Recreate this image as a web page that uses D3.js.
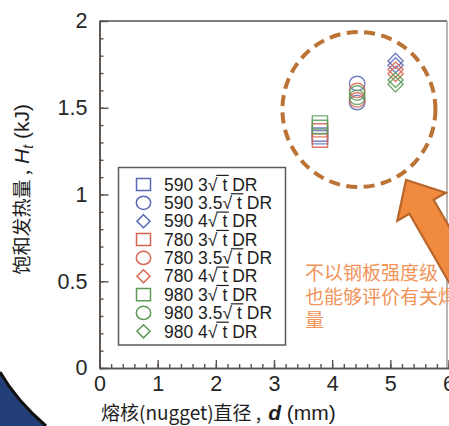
<!DOCTYPE html>
<html>
<head>
<meta charset="utf-8">
<script src="https://cdn.jsdelivr.net/npm/d3@7"></script>
<style>
  html, body { margin: 0; padding: 0; background: #fff; }
  svg { display: block; }
</style>
</head>
<body>
<svg id="chart" width="449" height="426"></svg>
<script>
// ---------- data ----------
const steelGrades = ["590", "780", "980"];
const drFactors = ["3", "3.5", "4"];            // x √t DR
const markerShapes = ["square", "circle", "diamond"];
const nuggetDiameter = [3.79, 4.43, 5.09];      // d (mm) for each DR factor
// saturated heat Ht (kJ), per DR factor (two readings each)
const heat590 = [[1.345, 1.33], [1.64, 1.53], [1.77, 1.745]];
const heat780 = [[1.37, 1.31], [1.60, 1.545], [1.72, 1.695]];
const heat980 = [[1.415, 1.39], [1.585, 1.56], [1.66, 1.635]];
const xTicks = [0, 1, 2, 3, 4, 5, 6];
const yTicks = [0, 0.5, 1, 1.5, 2];
const yTickLabels = ["0", "0.5", "1", "1.5", "2"];
const noteLines = ["不以钢板强度级", "也能够评价有关焊", "量"];

// ---------- styling ----------
const gradeColors = ["#5b68b6", "#d9644f", "#5c9b56"];
const heatByGrade = [heat590, heat780, heat980];

const svg = d3.select("#chart");
const W = 449, H = 426;
const margin = { left: 99.5, right: 0.5, top: 21, bottom: 58 };
const x = d3.scaleLinear().domain([0, 6]).range([margin.left, W - margin.right]);
const y = d3.scaleLinear().domain([0, 2]).range([H - margin.bottom, margin.top]);

svg.append("rect").attr("width", W).attr("height", H).attr("fill", "#fff");

const axisColor = "#5a524d";

// frame (top + right)
svg.append("line").attr("x1", x(0)).attr("x2", x(6) - 1.5).attr("y1", y(2)).attr("y2", y(2))
  .attr("stroke", axisColor).attr("stroke-width", 1.5);
svg.append("line").attr("x1", x(6) - 1.5).attr("x2", x(6) - 1.5).attr("y1", y(2)).attr("y2", y(0))
  .attr("stroke", "#8a8580").attr("stroke-width", 1.2);

// x axis minor + major
const xMinor = svg.append("g").attr("transform", `translate(0,${y(0)})`)
  .call(d3.axisBottom(x).tickValues(d3.range(0, 30.5, 1).map(v => v / 5)).tickSize(-4).tickSizeOuter(0).tickFormat(""));
const xMajor = svg.append("g").attr("transform", `translate(0,${y(0)})`)
  .call(d3.axisBottom(x).tickValues(xTicks).tickSize(-8).tickSizeOuter(0).tickPadding(8).tickFormat(d3.format("d")));
const yMinor = svg.append("g").attr("transform", `translate(${x(0)},0)`)
  .call(d3.axisLeft(y).tickValues(d3.range(0, 20.5, 1).map(v => v / 10)).tickSize(-4).tickSizeOuter(0).tickFormat(""));
const yMajor = svg.append("g").attr("transform", `translate(${x(0)},0)`)
  .call(d3.axisLeft(y).tickValues(yTicks).tickSize(-9).tickSizeOuter(0).tickPadding(12)
    .tickFormat((d, i) => yTickLabels[i]));

[xMinor, xMajor, yMinor, yMajor].forEach(g => {
  g.selectAll("path.domain").attr("stroke", axisColor).attr("stroke-width", 1.6);
  g.selectAll(".tick line").attr("stroke", axisColor).attr("stroke-width", 1.4);
  g.selectAll(".tick text").attr("font-family", "Liberation Sans, Arial, sans-serif")
    .attr("font-size", 21.5).attr("fill", "#262626");
});

// ---------- annotation: dashed circle ----------
svg.append("ellipse")
  .attr("cx", x(4.46)).attr("cy", y(1.49)).attr("rx", 76.5).attr("ry", 77.5)
  .attr("fill", "none").attr("stroke", "#bb7336").attr("stroke-width", 4)
  .attr("stroke-dasharray", "11 6.5");

// ---------- markers ----------
function markerPath(shape, cx, cy, s) {
  if (shape === "square") {
    const w = 7.6 * s, h = 6.6 * s;
    return `M${cx - w},${cy - h}H${cx + w}V${cy + h}H${cx - w}Z`;
  }
  if (shape === "circle") {
    const rx = 7.8 * s, ry = 7.2 * s;
    return `M${cx - rx},${cy}A${rx},${ry} 0 1,0 ${cx + rx},${cy}A${rx},${ry} 0 1,0 ${cx - rx},${cy}Z`;
  }
  const w = 7.6 * s, h = 7.6 * s;
  return `M${cx},${cy - h}L${cx + w},${cy}L${cx},${cy + h}L${cx - w},${cy}Z`;
}

const pts = [];
drFactors.forEach((f, fi) => {
  steelGrades.forEach((g, gi) => {
    heatByGrade[gi][fi].forEach(v => {
      pts.push({ d: nuggetDiameter[fi], h: v, shape: markerShapes[fi], color: gradeColors[gi] });
    });
  });
});
svg.append("g").selectAll("path").data(pts).join("path")
  .attr("d", p => markerPath(p.shape, x(p.d), y(p.h), 1))
  .attr("fill", "none").attr("stroke", p => p.color).attr("stroke-width", 1.4).attr("opacity", 0.85);

// ---------- legend ----------
const lg = svg.append("g");
lg.append("rect").attr("x", 118.5).attr("y", 167.5).attr("width", 167).attr("height", 177.5)
  .attr("fill", "#fff").attr("stroke", "#5a5a5a").attr("stroke-width", 1.5);
const legendItems = [];
steelGrades.forEach((g, gi) => drFactors.forEach((f, fi) => legendItems.push({ g, f, gi, fi })));
legendItems.forEach((it, i) => {
  const cy = 184.5 + i * 18.35;
  lg.append("path").attr("d", markerPath(markerShapes[it.fi], 143.5, cy, it.fi === 2 ? 0.86 : 0.92))
    .attr("fill", "none").attr("stroke", gradeColors[it.gi]).attr("stroke-width", 1.5);
  const t = lg.append("text").attr("x", 164).attr("y", cy + 6.2)
    .attr("font-family", "Liberation Sans, Arial, sans-serif").attr("font-size", 17.5).attr("fill", "#1e1e1e");
  const pre = `${it.g} ${it.f}√`;
  t.append("tspan").text(pre);
  t.append("tspan").attr("dx", 5).text("t");
  t.append("tspan").text(" DR");
  const node = t.node();
  const rEnd = node.getEndPositionOfChar(pre.length - 1).x;
  const tEnd = node.getEndPositionOfChar(pre.length).x;
  lg.append("line").attr("x1", rEnd - 1.2).attr("x2", tEnd + 1.5)
    .attr("y1", cy + 6.2 - 15.3).attr("y2", cy + 6.2 - 15.3)
    .attr("stroke", "#1e1e1e").attr("stroke-width", 1.2);
});

// ---------- annotation: arrow ----------
const tipX = x(5.27), tipY = y(1.084);
const arrowPts = [[0, 0], [31, 28], [31, 14], [170, 14], [170, -14], [31, -14], [31, -28]];
svg.append("polygon")
  .attr("points", arrowPts.map(p => p.join(",")).join(" "))
  .attr("transform", `translate(${tipX},${tipY}) rotate(60)`)
  .attr("fill", "#f08a3e").attr("stroke", "#b8652c").attr("stroke-width", 2.2)
  .attr("stroke-linejoin", "miter");

// ---------- note text ----------
const note = svg.append("g");
noteLines.forEach((s, i) => {
  note.append("text").attr("x", 305).attr("y", 280 + i * 23.5)
    .attr("font-family", "Noto Sans CJK SC, sans-serif").attr("font-size", 19)
    .attr("fill", "#f29358").text(s);
});

// ---------- axis titles ----------
const xt = svg.append("text").attr("x", 101).attr("y", 420)
  .attr("font-family", "Noto Sans CJK SC, sans-serif").attr("font-size", 19).attr("fill", "#1e1e1e");
xt.append("tspan").text("熔核(nugget)直径 ,");
xt.append("tspan").attr("dx", 7).attr("font-family", "Liberation Sans, Arial, sans-serif")
  .attr("font-style", "italic").attr("font-weight", "bold").attr("font-size", 21).text("d");
xt.append("tspan").attr("font-family", "Liberation Sans, Arial, sans-serif").attr("font-size", 21).text(" (mm)");

const yt = svg.append("text").attr("transform", `translate(29,${y(1.03)}) rotate(-90)`)
  .attr("text-anchor", "middle")
  .attr("font-family", "Noto Sans CJK SC, sans-serif").attr("font-size", 19).attr("fill", "#1e1e1e");
yt.append("tspan").text("饱和发热量 ,");
yt.append("tspan").attr("dx", 6).attr("font-family", "Liberation Sans, Arial, sans-serif")
  .attr("font-style", "italic").attr("font-size", 21).text("H");
yt.append("tspan").attr("font-family", "Liberation Sans, Arial, sans-serif")
  .attr("font-style", "italic").attr("font-size", 14).attr("dy", 4).text("t");
yt.append("tspan").attr("font-family", "Liberation Sans, Arial, sans-serif")
  .attr("font-size", 21).attr("dy", -4).text(" (kJ)");

// ---------- decorative dark corner ----------
svg.append("path").attr("d", `M0,${H - 54} Q16,${H - 26} 46,${H} L0,${H} Z`)
  .attr("fill", "#233f78");
svg.append("path").attr("d", `M0,${H - 54} Q16,${H - 26} 46,${H}`)
  .attr("fill", "none").attr("stroke", "#111").attr("stroke-width", 3);
</script>
</body>
</html>
